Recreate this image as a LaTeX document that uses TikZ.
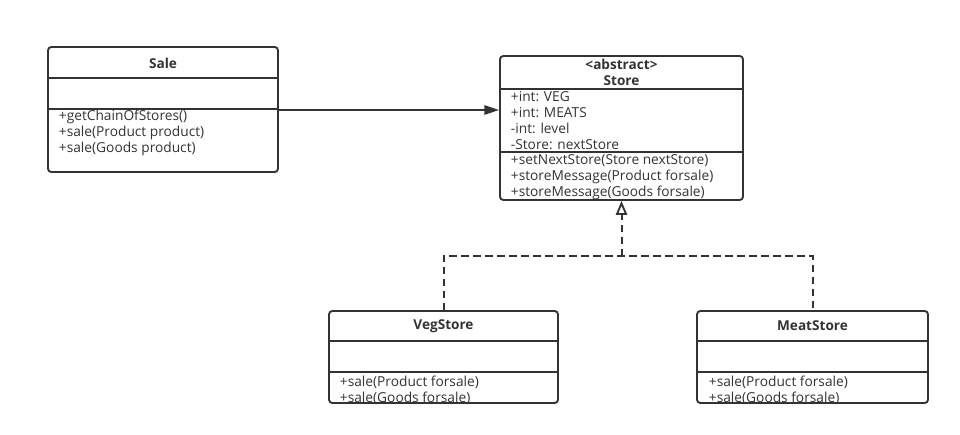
\documentclass[tikz,border=0pt]{standalone}
\usepackage{fontspec}
\setmainfont{Open Sans}
\usetikzlibrary{arrows.meta}
\definecolor{umlgray}{HTML}{333333}
\begin{document}
\begin{tikzpicture}[
    x=0.75pt, y=-0.75pt,
    line width=1.4pt, draw=umlgray,
    classbox/.style={rectangle, rounded corners=2.5pt, draw=umlgray, line width=1.4pt, inner sep=0pt},
    title/.style={font=\fontsize{10.2}{12}\selectfont\bfseries, text=umlgray, align=center, inner sep=0pt},
    members/.style={font=\fontsize{10.3}{12}\selectfont, text=umlgray, align=left, anchor=west, inner sep=0pt},
    dashline/.style={dash pattern=on 5.5pt off 3.5pt, line width=1.5pt},
]
  \useasboundingbox (0,0) rectangle (960,435);
  % class boxes
  \node [classbox, minimum width=172.5pt, minimum height=93.75pt] (sale)  at (163,109.5)   {};
  \node [classbox, minimum width=182.25pt, minimum height=108pt]  (store) at (621.5,128)   {};
  \node [classbox, minimum width=171.75pt, minimum height=69pt]   (veg)   at (443.5,357)   {};
  \node [classbox, minimum width=173.25pt, minimum height=69pt]   (meat)  at (812.5,357)   {};
  % compartments
  \draw (sale.west |- 0,78)   -- (sale.east |- 0,78);
  \draw (sale.west |- 0,109)  -- (sale.east |- 0,109);
  \draw (store.west |- 0,89)  -- (store.east |- 0,89);
  \draw (store.west |- 0,152) -- (store.east |- 0,152);
  \draw (veg.west |- 0,341)   -- (veg.east |- 0,341);
  \draw (veg.west |- 0,372)   -- (veg.east |- 0,372);
  \draw (meat.west |- 0,341)  -- (meat.east |- 0,341);
  \draw (meat.west |- 0,372)  -- (meat.east |- 0,372);
  % names
  \node [title] (saleN)  at (163,63)    {Sale};
  \node [title] (storeN) at (621.5,72)  {<abstract>\\Store};
  \node [title] (vegN)   at (443.5,326) {VegStore};
  \node [title] (meatN)  at (812.5,326) {MeatStore};
  % members
  \node [members] (saleM)   at (58,133)  {+getChainOfStores()\\+sale(Product product)\\+sale(Goods product)};
  \node [members] (storeA)  at (510,121) {+int: VEG\\+int: MEATS\\-int: level\\-Store: nextStore};
  \node [members] (storeM)  at (510,177) {+setNextStore(Store nextStore)\\+storeMessage(Product forsale)\\+storeMessage(Goods forsale)};
  \node [members] (vegM)    at (339,390) {+sale(Product forsale)\\+sale(Goods forsale)};
  \node [members] (meatM)   at (708,390) {+sale(Product forsale)\\+sale(Goods forsale)};
  % association
  \draw [-{Triangle[length=11pt,width=7pt]}] (sale.east |- 0,110) -- (store.west |- 0,110);
  % realization
  \coordinate (joint) at (621.5,256);
  \draw [dashline] (veg.north) |- (joint) -| (meat.north);
  \draw [dashline, -{Triangle[open,length=10.5pt,width=8.5pt,line width=1.4pt]}] (joint) -- (store.south);
\end{tikzpicture}
\end{document}
